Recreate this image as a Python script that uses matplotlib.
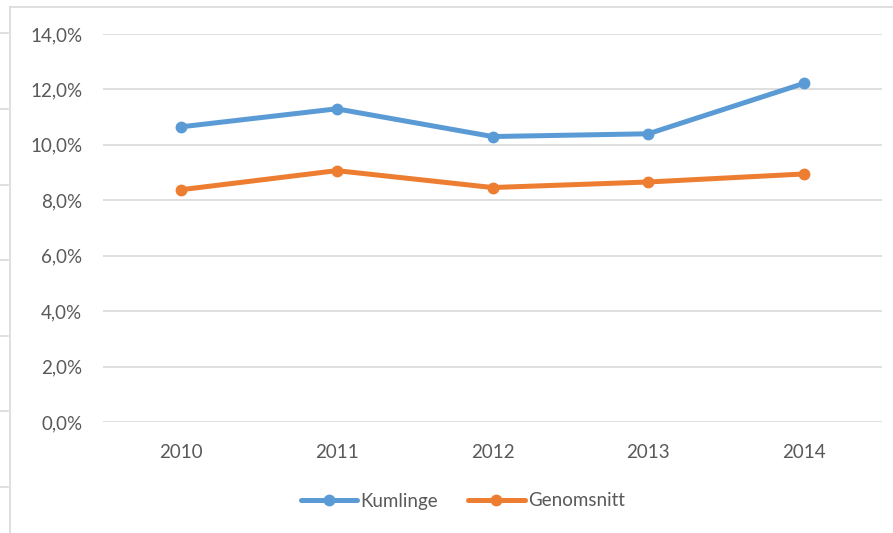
import numpy as np
import matplotlib
matplotlib.use("Agg")
import matplotlib.pyplot as plt
from matplotlib.lines import Line2D
from matplotlib.ticker import FuncFormatter

years = ["2010", "2011", "2012", "2013", "2014"]
kumlinge = [0.1065, 0.1130, 0.1030, 0.1040, 0.1222]
genomsnitt = [0.0838, 0.0907, 0.0846, 0.0866, 0.0895]

BLUE = "#5b9bd5"
ORANGE = "#ed7d31"
TXT = "#595959"
GRID = "#d9d9d9"

plt.rcParams["font.family"] = ["Lato", "DejaVu Sans"]

W, H = 893, 533
fig = plt.figure(figsize=(W / 100, H / 100), dpi=100)
ax = fig.add_axes([103 / W, 1 - 422 / H, (882 - 103) / W, (422 - 34) / H])

x = np.arange(len(years))
ax.plot(x, kumlinge, color=BLUE, lw=3.6, marker="o", ms=7.5,
        solid_capstyle="round", label="Kumlinge")
ax.plot(x, genomsnitt, color=ORANGE, lw=3.6, marker="o", ms=7.5,
        solid_capstyle="round", label="Genomsnitt")

ax.set_xlim(-0.5, len(years) - 0.5)
ax.set_ylim(0, 0.14)
ax.set_yticks(np.arange(0, 0.141, 0.02))
ax.yaxis.set_major_formatter(FuncFormatter(lambda v, p: f"{v * 100:.1f}%".replace(".", ",")))
ax.set_xticks(x)
ax.set_xticklabels(years)
ax.grid(axis="y", color=GRID, lw=1.2)
ax.set_axisbelow(True)
for s in ax.spines.values():
    s.set_visible(False)
ax.tick_params(length=0, labelsize=13.5, labelcolor=TXT)
ax.tick_params(axis="y", pad=15)
ax.tick_params(axis="x", pad=16)

ax.legend(loc="center", bbox_to_anchor=(463 / W, 1 - 501 / H),
          bbox_transform=fig.transFigure, ncol=2, frameon=False,
          fontsize=13.5, labelcolor=TXT, handlelength=3.0,
          columnspacing=1.6, handletextpad=0.2)

# chart frame (left and top edges) and stray gridlines from neighbouring chart
fig.add_artist(Line2D([10 / W, 10 / W], [0, 1 - 7 / H], color=GRID, lw=1.2))
fig.add_artist(Line2D([10 / W, 1], [1 - 7 / H, 1 - 7 / H], color=GRID, lw=1.2))
for yy in [33, 109, 185, 260, 336, 411, 487]:
    fig.add_artist(Line2D([0, 8 / W], [1 - yy / H, 1 - yy / H], color=GRID, lw=1.2))

fig.savefig("out.png", dpi=100)
